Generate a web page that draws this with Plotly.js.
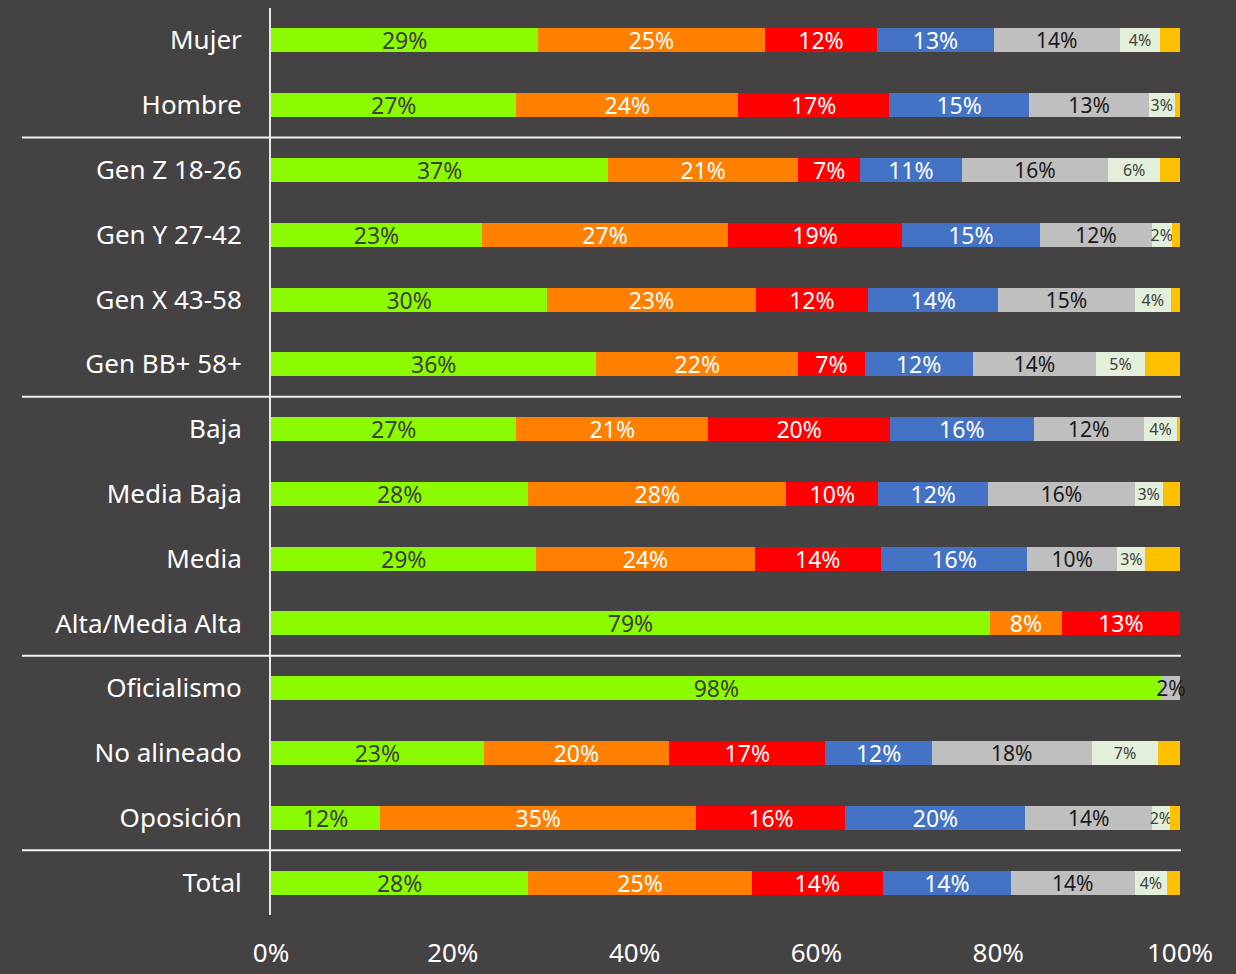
<!DOCTYPE html>
<html>
<head>
<meta charset="utf-8">
<script src="https://cdn.plot.ly/plotly-3.0.1.min.js"></script>
<style>html,body{margin:0;padding:0;background:#444243;}#chart{width:1236px;height:974px;}</style>
</head>
<body>
<div id="chart"></div>
<script>
const categories = ["Mujer","Hombre","Gen Z 18-26","Gen Y 27-42","Gen X 43-58","Gen BB+ 58+","Baja","Media Baja","Media","Alta/Media Alta","Oficialismo","No alineado","Oposición","Total"];
const seriesGreen  = [29.4, 27.0, 37.1, 23.2, 30.4, 35.8, 27.0, 28.3, 29.2, 79.1, 98.0, 23.4, 12.0, 28.3];
const seriesOrange = [24.9, 24.4, 20.9, 27.1, 22.9, 22.2, 21.1, 28.4, 24.0, 7.9, null, 20.4, 34.8, 24.6];
const seriesRed    = [12.4, 16.6, 6.8, 19.1, 12.4, 7.3, 20.0, 10.1, 13.9, 13.0, null, 17.2, 16.4, 14.4];
const seriesBlue   = [12.8, 15.4, 11.2, 15.2, 14.3, 11.9, 15.8, 12.1, 16.1, null, null, 11.7, 19.8, 14.1];
const seriesGray   = [13.9, 13.2, 16.1, 12.3, 15.0, 13.6, 12.1, 16.1, 9.9, null, 2.0, 17.6, 13.9, 13.6];
const seriesLight  = [4.4, 2.8, 5.7, 2.2, 4.0, 5.3, 3.7, 3.1, 3.1, null, null, 7.3, 2.0, 3.6];
const seriesYellow = [2.2, 0.6, 2.2, 0.9, 1.0, 3.9, 0.3, 1.9, 3.8, null, null, 2.4, 1.1, 1.4];
const tickVals = [0, 20, 40, 60, 80, 100];
const tickText = ["0%", "20%", "40%", "60%", "80%", "100%"];
const separators = [1.5, 5.5, 9.5, 12.5];

const FONT = "'Noto Sans', 'Open Sans', sans-serif";
function mk(vals, color, textColor, size, showText) {
  return {
    type: 'bar', orientation: 'h', y: categories, x: vals,
    marker: {color: color, line: {width: 0}},
    texttemplate: showText ? '%{x:.0f}%' : '',
    textposition: showText ? 'inside' : 'none',
    insidetextanchor: 'middle',
    textangle: 0,
    constraintext: 'none',
    cliponaxis: false,
    insidetextfont: {color: textColor, size: size, family: FONT},
    textfont: {color: textColor, size: size, family: FONT},
    hoverinfo: 'skip', showlegend: false
  };
}
const data = [
  mk(seriesGreen, '#8cfa00', '#404040', 23, true),
  mk(seriesOrange, '#ff8000', '#ffffff', 23, true),
  mk(seriesRed, '#ff0000', '#ffffff', 23, true),
  mk(seriesBlue, '#4472c4', '#ffffff', 23, true),
  mk(seriesGray, '#bfbfbf', '#1a1a1a', 21, true),
  mk(seriesLight, '#e2efda', '#404040', 16, true),
  mk(seriesYellow, '#ffc000', '#404040', 16, false)
];
const shapes = separators.map(v => ({
  type: 'line', xref: 'paper', yref: 'y', x0: -0.274, x1: 1.001, y0: v, y1: v,
  line: {color: '#f2f2f2', width: 2}
}));
const layout = {
  width: 1236, height: 974,
  paper_bgcolor: '#444243', plot_bgcolor: '#444243',
  margin: {l: 271, r: 56, t: 8, b: 59},
  barmode: 'stack', bargap: 0.63,
  font: {family: FONT, color: '#ffffff'},
  xaxis: {range: [0, 100], tickvals: tickVals, ticktext: tickText, showgrid: false, zeroline: false,
          showline: false, ticks: 'outside', ticklen: 15, tickcolor: 'rgba(0,0,0,0)',
          tickfont: {size: 26, color: '#ffffff', family: FONT}, fixedrange: true},
  yaxis: {type: 'category', autorange: 'reversed', showgrid: false, zeroline: false,
          showline: true, linecolor: '#e6e6e6', linewidth: 2,
          ticks: 'outside', ticklen: 22, tickcolor: 'rgba(0,0,0,0)',
          tickfont: {size: 26, color: '#ffffff', family: FONT}, fixedrange: true},
  shapes: shapes
};
Plotly.newPlot('chart', data, layout, {displayModeBar: false, staticPlot: true});
</script>
</body>
</html>
